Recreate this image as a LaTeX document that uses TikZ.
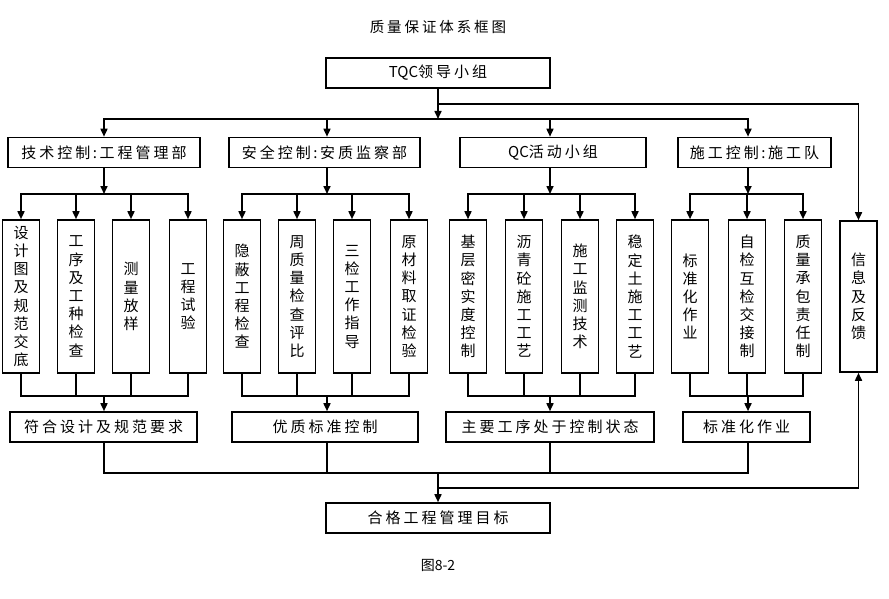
\documentclass[tikz,border=0pt]{standalone}
\usepackage{fontspec}
\setmainfont{Noto Sans CJK SC}
\newfontfamily\spaced{Noto Sans CJK SC}[LetterSpace=20]
\usetikzlibrary{arrows.meta,calc}

\begin{document}
\begin{tikzpicture}[x=1pt, y=-1pt, >={Triangle[length=8pt,width=7pt]}, line width=1.6pt, line cap=rect,
  every box/.style={draw, inner sep=0pt, minimum height=30pt, font=\spaced\fontsize{15}{17}\selectfont},
  every column/.style={draw, inner sep=0pt, minimum width=37pt, minimum height=153pt, align=center, font=\fontsize{15}{18.2}\selectfont}]

\useasboundingbox (0,0) rectangle (889,599);

\node [font=\spaced\fontsize{14.5}{17}\selectfont] (title) at (438,27) {质量保证体系框图};
\node [every box, minimum width=224pt] (tqc) at (438,73) {{\rmfamily TQC}领导小组};

\foreach \x/\w/\t [count=\i] in {104/192/技术控制\,:\,工程管理部, 324.5/191/安全控制\,:\,安质监察部, 553/186/{\rmfamily QC}活动小组, 754.5/153/施工控制\,:\,施工队}
  \node [every box, minimum width=\w pt] (dept-\i) at (\x,152.5) {\t};

\foreach \x [count=\i] in {104,327,550,748}
  \coordinate (col-\i) at (\x,0);

\coordinate (bus) at (0,119);
\coordinate (split) at (0,104);
\coordinate (top) at (0,194);
\coordinate (bot) at (0,396);
\coordinate (low) at (0,473);
\coordinate (back) at (0,488);

\foreach \x/\t [count=\j] in {21/设\\计\\图\\及\\规\\范\\交\\底, 76/工\\序\\及\\工\\种\\检\\查, 131/测\\量\\放\\样, 188/工\\程\\试\\验}
  \node [every column] (c1-\j) at (\x,296.5) {\t};

\foreach \x/\t [count=\j] in {242/隐\\蔽\\工\\程\\检\\查, 297/周\\质\\量\\检\\查\\评\\比, 352/三\\检\\工\\作\\指\\导, 409/原\\材\\料\\取\\证\\检\\验}
  \node [every column] (c2-\j) at (\x,296.5) {\t};

\foreach \x/\t [count=\j] in {468/基\\层\\密\\实\\度\\控\\制, 524/沥\\青\\砼\\施\\工\\工\\艺, 580/施\\工\\监\\测\\技\\术, 635/稳\\定\\土\\施\\工\\工\\艺}
  \node [every column] (c3-\j) at (\x,296.5) {\t};

\foreach \x/\t [count=\j] in {690/标\\准\\化\\作\\业, 747/自\\检\\互\\检\\交\\接\\制, 803/质\\量\\承\\包\\责\\任\\制}
  \node [every column] (c4-\j) at (\x,296.5) {\t};

\node [every column, minimum height=151pt] (fb) at (858.5,296.5) {信\\息\\及\\反\\馈};

\foreach \x/\w/\t [count=\i] in {103.5/187/符合设计及规范要求, 325/186/优质标准控制, 550/208/主要工序处于控制状态, 746.5/127/标准化作业}
  \node [every box, minimum width=\w pt] (res-\i) at (\x,427) {\t};

\node [every box, minimum width=224pt] (goal) at (438,518) {合格工程管理目标};
\node [font=\fontsize{14}{16}\selectfont] (caption) at (438,565) {图8-2};

% top levels
\draw [->] (tqc) -- (tqc |- bus);
\draw (col-1 |- bus) -- (col-4 |- bus);
\foreach \i in {1,...,4}
  \draw [->] (col-\i |- bus) -- (col-\i |- dept-\i.north);
\draw [->] (tqc |- split) -| (fb);

% groups
\foreach \g/\n in {1/4,2/4,3/4,4/3} {
  \draw [->] (col-\g |- dept-\g.south) -- (col-\g |- top);
  \draw (c\g-1 |- top) -- (c\g-\n |- top);
  \draw (c\g-1 |- bot) -- (c\g-\n |- bot);
  \foreach \j in {1,...,\n} {
    \draw [->] (c\g-\j |- top) -- (c\g-\j);
    \draw (c\g-\j) -- (c\g-\j |- bot);
  }
  \draw [->] (col-\g |- bot) -- (col-\g |- res-\g.north);
}

% bottom
\foreach \i in {1,...,4}
  \draw (col-\i |- res-\i.south) -- (col-\i |- low);
\draw (col-1 |- low) -- (col-4 |- low);
\draw [->] (goal |- low) -- (goal);
\draw [->] (goal |- back) -| (fb);

\end{tikzpicture}
\end{document}
